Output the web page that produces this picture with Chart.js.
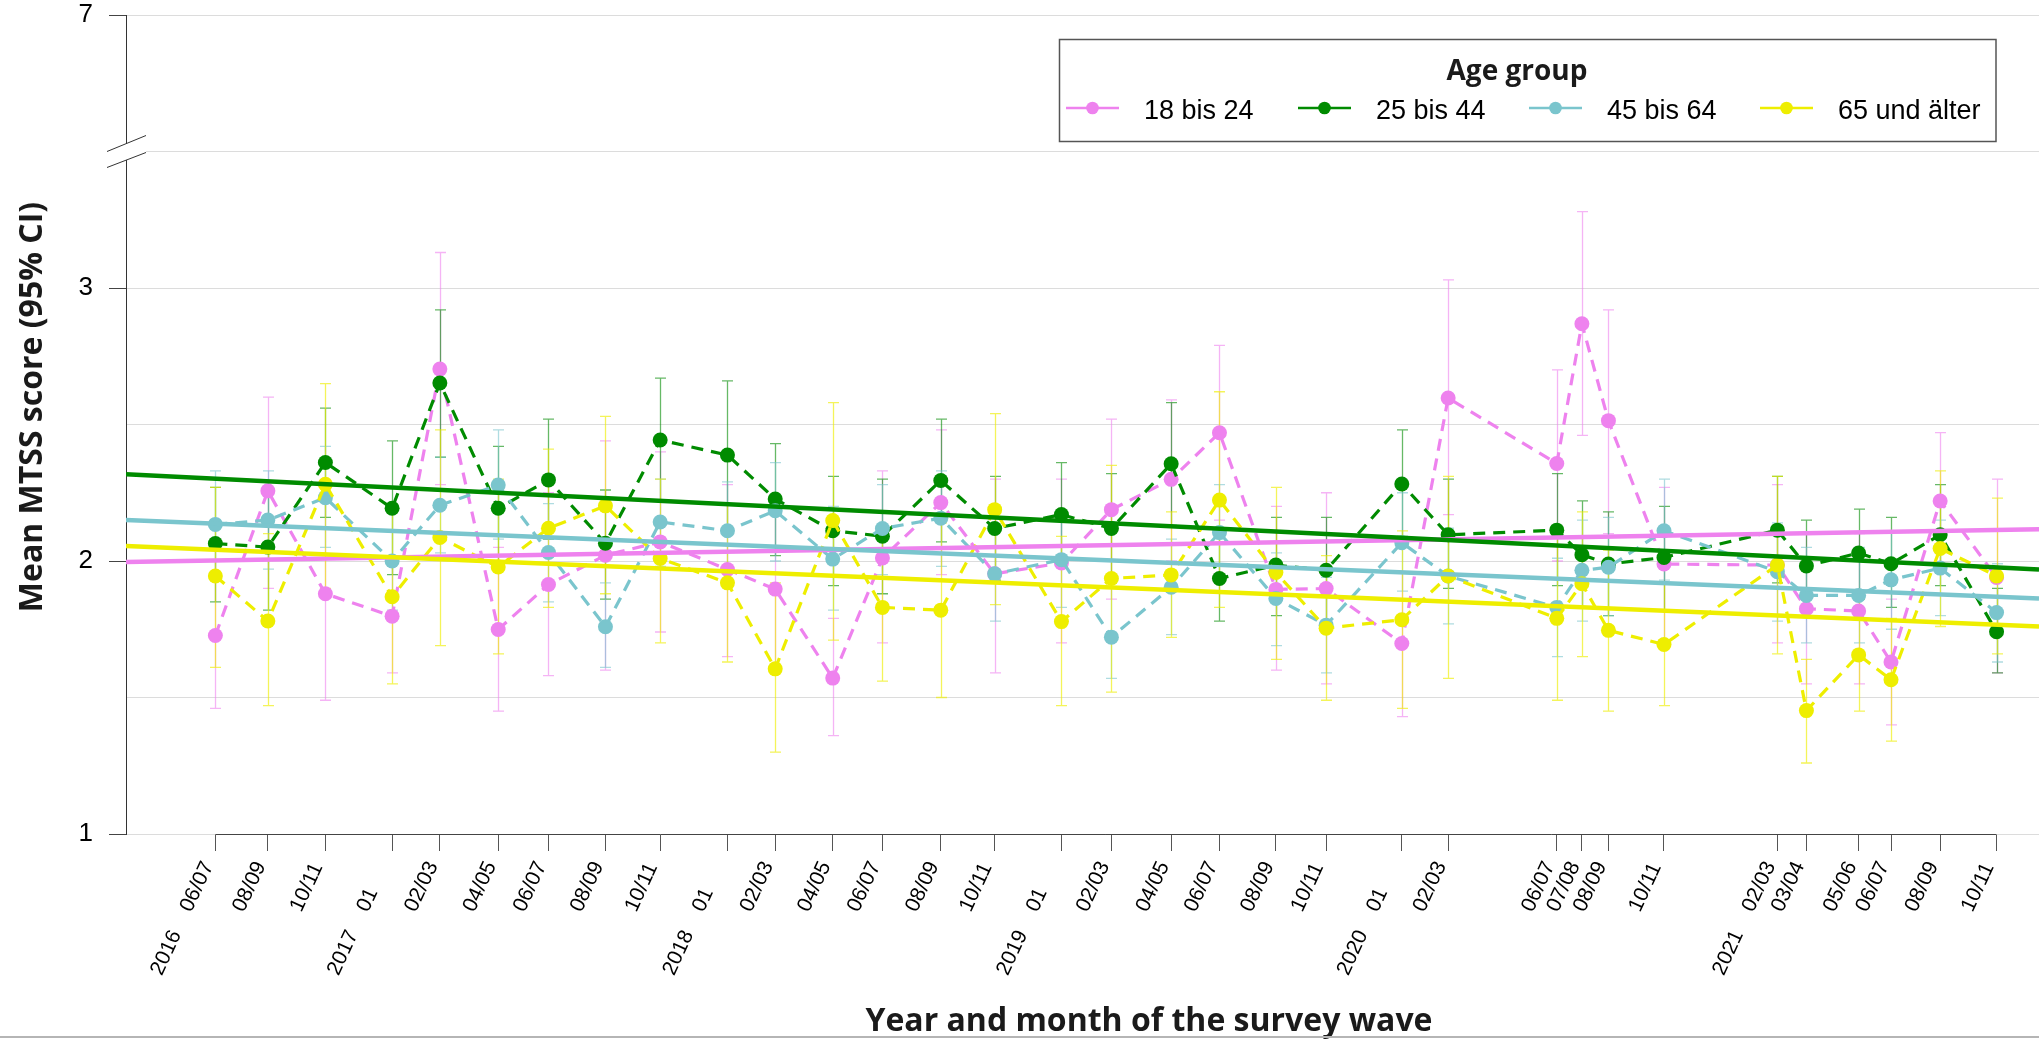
<!DOCTYPE html>
<html>
<head>
<meta charset="utf-8">
<title>Mean MTSS score by age group</title>
<script src="https://cdn.jsdelivr.net/npm/chart.js@4.4.1/dist/chart.umd.min.js"></script>
<style>
  html, body { margin: 0; padding: 0; background: #ffffff; }
  #wrap { width: 2039px; height: 1039px; position: relative; }
  canvas { display: block; }
</style>
</head>
<body>
<div id="wrap"><canvas id="chart" width="2039" height="1039"></canvas></div>
<script>
// Survey waves: approximate field time in months since the start of 2016
const waveTime = [6.5, 8.38, 10.44, 12.83, 14.54, 16.63, 18.43, 20.47, 22.43, 24.84, 26.55,
  28.61, 30.39, 32.48, 34.41, 36.80, 38.59, 40.73, 42.46, 44.48, 46.28, 48.99, 50.65,
  54.54, 55.44, 56.39, 58.38, 62.44, 63.48, 65.35, 66.51, 68.27, 70.29];
const waveMonths = ["06/07", "08/09", "10/11", "01", "02/03", "04/05", "06/07", "08/09", "10/11",
  "01", "02/03", "04/05", "06/07", "08/09", "10/11", "01", "02/03", "04/05", "06/07", "08/09",
  "10/11", "01", "02/03", "06/07", "07/08", "08/09", "10/11", "02/03", "03/04", "05/06",
  "06/07", "08/09", "10/11"];
const waveYears = ["2016", "", "", "2017", "", "", "", "", "", "2018", "", "", "", "", "",
  "2019", "", "", "", "", "", "2020", "", "", "", "", "", "2021", "", "", "", "", ""];

// Visible time range of the x axis
const timeRange = [3.30, 71.81];

// Age group 18 bis 24
const mean1824 = [1.727, 2.257, 1.880, 1.798, 2.703, 1.749, 1.914, 2.021, 2.070, 1.969, 1.897,
  1.571, 2.011, 2.214, 1.953, 1.993, 2.188, 2.299, 2.470, 1.896, 1.899, 1.698, 2.597,
  2.357, 2.869, 2.514, 1.989, 1.985, 1.825, 1.817, 1.630, 2.220, 1.940];
const low1824 = [1.46, 1.90, 1.49, 1.59, 2.28, 1.45, 1.58, 1.60, 1.74, 1.65, 1.60, 1.36, 1.70,
  1.95, 1.59, 1.70, 1.86, 2.00, 2.15, 1.60, 1.55, 1.43, 2.17, 2.00, 2.46, 2.10, 1.70, 1.70,
  1.55, 1.55, 1.40, 1.97, 1.59];
const high1824 = [2.00, 2.60, 2.27, 2.00, 3.13, 2.05, 2.25, 2.44, 2.40, 2.28, 2.20, 1.79, 2.33,
  2.48, 2.30, 2.30, 2.52, 2.59, 2.79, 2.20, 2.25, 1.96, 3.03, 2.70, 3.28, 2.92, 2.27, 2.28,
  2.10, 2.10, 1.86, 2.47, 2.30];
const trend1824 = [1.996, 2.116];

// Age group 25 bis 44
const mean2544 = [2.064, 2.051, 2.361, 2.193, 2.652, 2.193, 2.297, 2.065, 2.443, 2.388, 2.227,
  2.111, 2.091, 2.295, 2.119, 2.170, 2.119, 2.356, 1.936, 1.985, 1.966, 2.282, 2.096,
  2.113, 2.023, 1.989, 2.013, 2.113, 1.982, 2.029, 1.990, 2.096, 1.741];
const low2544 = [1.85, 1.82, 2.16, 1.95, 2.38, 1.97, 2.08, 1.86, 2.22, 2.11, 2.02, 1.91, 1.88,
  2.07, 1.93, 1.98, 1.92, 2.13, 1.78, 1.80, 1.77, 2.09, 1.90, 1.91, 1.83, 1.80, 1.82, 1.92,
  1.82, 1.86, 1.83, 1.91, 1.59];
const high2544 = [2.27, 2.25, 2.56, 2.44, 2.92, 2.42, 2.52, 2.26, 2.67, 2.66, 2.43, 2.31, 2.30,
  2.52, 2.31, 2.36, 2.32, 2.58, 2.10, 2.16, 2.16, 2.48, 2.30, 2.32, 2.22, 2.18, 2.20, 2.31,
  2.15, 2.19, 2.16, 2.28, 1.90];
const trend2544 = [2.318, 1.969];

// Age group 45 bis 64
const mean4564 = [2.134, 2.150, 2.232, 2.000, 2.204, 2.278, 2.031, 1.759, 2.143, 2.111, 2.184,
  2.007, 2.119, 2.157, 1.953, 2.005, 1.721, 1.904, 2.104, 1.863, 1.765, 2.067, 1.945,
  1.830, 1.966, 1.977, 2.111, 1.961, 1.874, 1.874, 1.931, 1.974, 1.811];
const low4564 = [1.94, 1.97, 2.05, 1.82, 2.03, 2.08, 1.85, 1.61, 1.98, 1.93, 2.00, 1.82, 1.95,
  1.98, 1.78, 1.83, 1.57, 1.73, 1.93, 1.69, 1.59, 1.89, 1.77, 1.65, 1.78, 1.80, 1.93, 1.78,
  1.70, 1.70, 1.75, 1.80, 1.63];
const high4564 = [2.33, 2.33, 2.42, 2.18, 2.38, 2.48, 2.21, 1.92, 2.30, 2.29, 2.36, 2.20, 2.28,
  2.33, 2.13, 2.18, 1.90, 2.08, 2.28, 2.03, 1.94, 2.25, 2.12, 2.01, 2.15, 2.16, 2.30, 2.14,
  2.05, 2.05, 2.11, 2.15, 1.99];
const trend4564 = [2.150, 1.863];

// Age group 65 und älter
const mean65 = [1.945, 1.780, 2.281, 1.869, 2.086, 1.978, 2.120, 2.202, 2.009, 1.920, 1.605,
  2.148, 1.830, 1.820, 2.188, 1.778, 1.936, 1.949, 2.223, 1.958, 1.754, 1.785, 1.945,
  1.790, 1.917, 1.746, 1.694, 1.985, 1.452, 1.656, 1.565, 2.046, 1.945];
const low65 = [1.61, 1.47, 1.90, 1.55, 1.69, 1.66, 1.83, 1.88, 1.70, 1.63, 1.30, 1.71, 1.56,
  1.50, 1.84, 1.47, 1.52, 1.72, 1.83, 1.64, 1.49, 1.46, 1.57, 1.49, 1.65, 1.45, 1.47, 1.66,
  1.26, 1.45, 1.34, 1.76, 1.66];
const high65 = [2.27, 2.10, 2.65, 2.19, 2.48, 2.30, 2.41, 2.53, 2.30, 2.21, 1.92, 2.58, 2.10,
  2.14, 2.54, 2.09, 2.35, 2.18, 2.62, 2.27, 2.02, 2.11, 2.31, 2.09, 2.18, 2.04, 1.92, 2.31,
  1.64, 1.87, 1.79, 2.33, 2.23];
const trend65 = [2.055, 1.760];

// Y axis: 1 to 3.5 on a regular scale; above the break the range up to 7
// is squeezed into half a unit, so scale value 4 carries the label "7".
const yTickValues = [1, 2, 3, 4];
const yTickLabels = ["1", "2", "3", "7"];
const yGridValues = [1, 1.5, 2, 2.5, 3, 3.5, 4];
const yRange = [1, 4];

const groupNames = ["18 bis 24", "25 bis 44", "45 bis 64", "65 und älter"];
const groupColors = ["#EE82EE", "#008B00", "#7AC5CD", "#EEEE00"];
const groupErrColors = ["rgba(238,130,238,0.6)", "rgba(0,139,0,0.6)", "rgba(122,197,205,0.6)", "rgba(238,238,0,0.65)"];

const groups = [
  { mean: mean1824, low: low1824, high: high1824, trend: trend1824 },
  { mean: mean2544, low: low2544, high: high2544, trend: trend2544 },
  { mean: mean4564, low: low4564, high: high4564, trend: trend4564 },
  { mean: mean65,   low: low65,   high: high65,   trend: trend65 }
];

const TICK_FONT = '"Liberation Sans", Arial, sans-serif';
const TITLE_FONT = '"Open Sans", "DejaVu Sans", sans-serif';

// Datasets: dashed wave-to-wave lines with points, plus linear trend lines on top
const datasets = [];
groups.forEach((g, k) => {
  datasets.push({
    label: groupNames[k],
    data: waveTime.map((t, i) => ({ x: t, y: g.mean[i] })),
    borderColor: groupColors[k],
    backgroundColor: groupColors[k],
    borderWidth: 3.2,
    borderDash: [12, 8],
    pointRadius: 7.5,
    pointHoverRadius: 7.5,
    pointBorderWidth: 0,
    pointBackgroundColor: groupColors[k],
    tension: 0,
    order: 10 - k
  });
});
groups.forEach((g, k) => {
  datasets.push({
    label: groupNames[k] + " trend",
    data: [{ x: timeRange[0], y: g.trend[0] }, { x: timeRange[1], y: g.trend[1] }],
    borderColor: groupColors[k],
    borderWidth: 4.5,
    pointRadius: 0,
    pointHoverRadius: 0,
    tension: 0,
    order: 4 - k
  });
});

// Confidence intervals drawn under the lines
const errorBars = {
  id: 'errorBars',
  beforeDatasetsDraw(chart) {
    const { ctx, chartArea, scales: { x, y } } = chart;
    ctx.save();
    ctx.beginPath();
    ctx.rect(chartArea.left, chartArea.top, chartArea.right - chartArea.left, chartArea.bottom - chartArea.top);
    ctx.clip();
    ctx.lineWidth = 1.3;
    groups.forEach((g, k) => {
      ctx.strokeStyle = groupErrColors[k];
      waveTime.forEach((t, i) => {
        const px = Math.round(x.getPixelForValue(t)) + 0.5;
        const lo = y.getPixelForValue(g.low[i]);
        const hi = y.getPixelForValue(g.high[i]);
        ctx.beginPath();
        ctx.moveTo(px, lo); ctx.lineTo(px, hi);
        ctx.moveTo(px - 5.5, lo); ctx.lineTo(px + 5.5, lo);
        ctx.moveTo(px - 5.5, hi); ctx.lineTo(px + 5.5, hi);
        ctx.stroke();
      });
    });
    ctx.restore();
  }
};

// Axis line, wave labels, axis titles, axis break and legend box
const decorations = {
  id: 'decorations',
  afterDraw(chart) {
    const { ctx, chartArea, scales: { x, y } } = chart;
    const bottom = chartArea.bottom;
    ctx.save();

    // x axis line spans from first to last wave only
    const x0 = x.getPixelForValue(waveTime[0]);
    const x1 = x.getPixelForValue(waveTime[waveTime.length - 1]);
    ctx.strokeStyle = '#444444';
    ctx.lineWidth = 1;
    ctx.beginPath();
    ctx.moveTo(x0, Math.round(bottom) + 0.5);
    ctx.lineTo(x1, Math.round(bottom) + 0.5);
    ctx.stroke();

    // rotated wave labels: month pair, with the year further down the same line
    const ang = 65 * Math.PI / 180;
    const ux = Math.cos(ang), uy = -Math.sin(ang);
    ctx.fillStyle = '#000000';
    ctx.font = '21px ' + TICK_FONT;
    ctx.textAlign = 'left';
    ctx.textBaseline = 'alphabetic';
    waveTime.forEach((t, i) => {
      const px = x.getPixelForValue(t);
      const mx = px - 24, my = bottom + 79;
      ctx.save();
      ctx.translate(mx, my);
      ctx.rotate(-ang);
      ctx.fillText(waveMonths[i], 0, 0);
      ctx.restore();
      if (waveYears[i]) {
        const d = 70;
        ctx.save();
        ctx.translate(mx - ux * d, my - uy * d);
        ctx.rotate(-ang);
        ctx.fillText(waveYears[i], 0, 0);
        ctx.restore();
      }
    });

    // axis titles
    ctx.fillStyle = '#1a1a1a';
    ctx.font = 'bold 32px ' + TITLE_FONT;
    ctx.textAlign = 'center';
    ctx.fillText('Year and month of the survey wave', 1149, 1031);
    ctx.save();
    ctx.translate(42, 407);
    ctx.rotate(-Math.PI / 2);
    ctx.fillText('Mean MTSS score (95% CI)', 0, 0);
    ctx.restore();

    // axis break on the y axis at 3.5
    const yb = y.getPixelForValue(3.5);
    const ax = chartArea.left;
    ctx.fillStyle = '#ffffff';
    ctx.beginPath();
    ctx.moveTo(ax - 19, yb);
    ctx.lineTo(ax + 20, yb - 16);
    ctx.lineTo(ax + 20, yb + 1);
    ctx.lineTo(ax - 19, yb + 16);
    ctx.closePath();
    ctx.fill();
    ctx.strokeStyle = '#333333';
    ctx.lineWidth = 1;
    ctx.beginPath();
    ctx.moveTo(ax - 19, yb); ctx.lineTo(ax + 20, yb - 16);
    ctx.moveTo(ax - 19, yb + 16); ctx.lineTo(ax + 20, yb + 1);
    ctx.stroke();

    // legend
    const lx0 = 1059.5, lx1 = 1996, ly0 = 39.5, ly1 = 141.5;
    ctx.fillStyle = '#ffffff';
    ctx.fillRect(lx0, ly0, lx1 - lx0, ly1 - ly0);
    ctx.strokeStyle = '#555555';
    ctx.lineWidth = 1.5;
    ctx.strokeRect(lx0, ly0, lx1 - lx0, ly1 - ly0);
    ctx.fillStyle = '#1a1a1a';
    ctx.font = 'bold 28px ' + TITLE_FONT;
    ctx.textAlign = 'center';
    ctx.fillText('Age group', 1517, 80);
    const symX = [1066, 1298, 1529, 1760];
    ctx.font = '27px ' + TICK_FONT;
    ctx.textAlign = 'left';
    groupNames.forEach((name, k) => {
      const sx = symX[k], sy = 108;
      ctx.strokeStyle = groupColors[k];
      ctx.lineWidth = 2.7;
      ctx.beginPath();
      ctx.moveTo(sx, sy); ctx.lineTo(sx + 53, sy);
      ctx.stroke();
      ctx.fillStyle = groupColors[k];
      ctx.beginPath();
      ctx.arc(sx + 26.5, sy, 6.3, 0, Math.PI * 2);
      ctx.fill();
      ctx.fillStyle = '#000000';
      ctx.fillText(name, sx + 78, 119);
    });

    // thin frame line along the bottom edge
    ctx.strokeStyle = '#b5b5b5';
    ctx.lineWidth = 2;
    ctx.beginPath();
    ctx.moveTo(0, 1037); ctx.lineTo(2039, 1037);
    ctx.stroke();

    ctx.restore();
  }
};

function makeChart() {
  new Chart(document.getElementById('chart'), {
    type: 'line',
    data: { datasets },
    options: {
      responsive: false,
      devicePixelRatio: 1,
      animation: false,
      events: [],
      layout: { autoPadding: false, padding: { top: 15, right: 0, bottom: 0, left: 0 } },
      plugins: { legend: { display: false }, tooltip: { enabled: false } },
      scales: {
        x: {
          type: 'linear',
          min: timeRange[0],
          max: timeRange[1],
          afterBuildTicks(scale) { scale.ticks = waveTime.map(v => ({ value: v })); },
          afterFit(scale) {
            scale.height = 205;
            scale.paddingLeft = 0; scale.paddingRight = 0;
          },
          ticks: { display: false },
          border: { display: false },
          grid: { display: true, drawOnChartArea: false, drawTicks: true, tickLength: 17, color: '#555555', lineWidth: 1 }
        },
        y: {
          type: 'linear',
          min: yRange[0],
          max: yRange[1],
          afterBuildTicks(scale) { scale.ticks = yGridValues.map(v => ({ value: v })); },
          afterFit(scale) {
            scale.width = 126;
            scale.paddingTop = 0; scale.paddingBottom = 0;
          },
          ticks: {
            padding: 16,
            color: '#000000',
            font: { family: TICK_FONT, size: 26 },
            callback(value) {
              const k = yTickValues.indexOf(value);
              return k >= 0 ? yTickLabels[k] : '';
            }
          },
          border: { display: true, color: '#333333', width: 1 },
          grid: {
            color: '#dcdcdc',
            lineWidth: 1,
            drawTicks: true,
            tickLength: 17,
            tickColor(ctx) {
              return (ctx.tick && yTickValues.indexOf(ctx.tick.value) >= 0) ? '#444444' : 'rgba(0,0,0,0)';
            }
          }
        }
      }
    },
    plugins: [errorBars, decorations]
  });
}

if (document.fonts && document.fonts.load) {
  Promise.all([
    document.fonts.load('bold 32px "Open Sans"'),
    document.fonts.load('26px "Liberation Sans"')
  ]).then(makeChart, makeChart);
} else {
  makeChart();
}
</script>
</body>
</html>
